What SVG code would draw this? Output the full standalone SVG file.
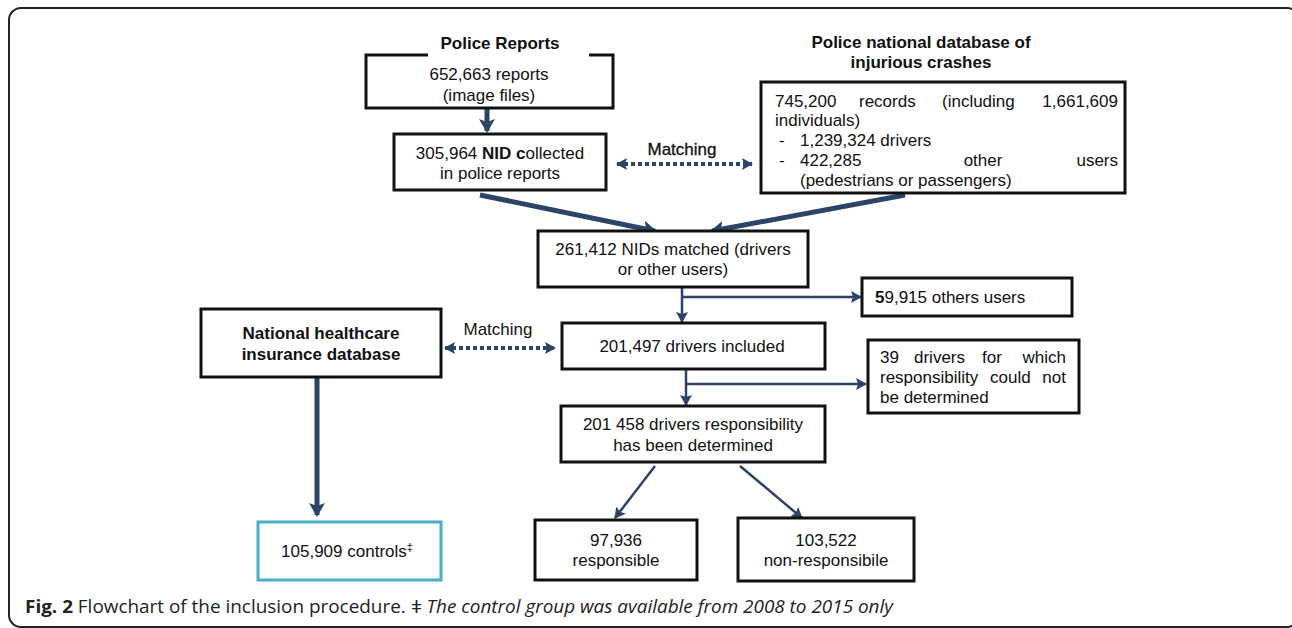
<svg xmlns="http://www.w3.org/2000/svg" width="1292" height="628" viewBox="0 0 1292 628">
<style>
.t{font-family:"Liberation Sans",Arial,sans-serif;font-size:17px;fill:#111}
.b{font-weight:bold}
.box{fill:#fff;stroke:#111;stroke-width:3}
.c{text-anchor:middle}
.e{text-anchor:end}
.thick{stroke:#2b4468;stroke-width:5;fill:none}
.thin{stroke:#2b4468;stroke-width:2.5;fill:none}
.dot{stroke:#2b4468;stroke-width:4;fill:none;stroke-dasharray:4 3}
.cap{font-family:"Open Sans","Liberation Sans",sans-serif;font-size:18px;fill:#222}
</style>
<defs>
<marker id="ah" markerUnits="userSpaceOnUse" markerWidth="20" markerHeight="20" refX="12" refY="8" orient="auto"><path d="M0,0 L14,8 L0,16 L3,8 Z" fill="#2b4468"/></marker>
<marker id="as" markerUnits="userSpaceOnUse" markerWidth="16" markerHeight="16" refX="10" refY="6" orient="auto"><path d="M0,0 L11,6 L0,12 L2,6 Z" fill="#2b4468"/></marker>
<marker id="ad" markerUnits="userSpaceOnUse" markerWidth="16" markerHeight="16" refX="10" refY="6" orient="auto-start-reverse"><path d="M0,0 L11,6 L0,12 L2,6 Z" fill="#2b4468"/></marker>
</defs>
<rect x="9" y="8" width="1290" height="619" rx="12" fill="#fff" stroke="#222" stroke-width="2"/>

<g id="connectors">
<line class="thick" x1="487" y1="108" x2="487" y2="131" marker-end="url(#ah)"/>
<line class="dot" x1="617" y1="164" x2="752" y2="164" marker-start="url(#ad)" marker-end="url(#ad)"/>
<line class="thick" x1="480" y1="195" x2="655" y2="231" marker-end="url(#ah)"/>
<line class="thick" x1="905" y1="195" x2="712" y2="231" marker-end="url(#ah)"/>
<line class="thin" x1="682" y1="287" x2="682" y2="322" marker-end="url(#as)"/>
<line class="thin" x1="682" y1="297" x2="861" y2="297" marker-end="url(#as)"/>
<line class="dot" x1="445" y1="348" x2="555" y2="348" marker-start="url(#ad)" marker-end="url(#ad)"/>
<line class="thin" x1="686" y1="369" x2="686" y2="405" marker-end="url(#as)"/>
<line class="thin" x1="686" y1="384" x2="866" y2="384" marker-end="url(#as)"/>
<line class="thin" x1="655" y1="466" x2="615" y2="518" marker-end="url(#as)"/>
<line class="thin" x1="740" y1="466" x2="802" y2="518" marker-end="url(#as)"/>
<line class="thick" x1="317" y1="377" x2="317" y2="515" stroke-width="4" marker-end="url(#ah)"/>
<text class="t c" x="682" y="155" stroke="#111" stroke-width="0.3">Matching</text>
<text class="t c" x="498" y="335">Matching</text>
</g>

<g id="police-reports">
<rect class="box" x="366" y="55" width="247" height="53"/>
<rect x="428" y="30" width="161" height="27" fill="#fff"/>
<text class="t b c" x="500" y="49">Police Reports</text>
<text class="t c" x="489" y="80">652,663 reports</text>
<text class="t c" x="489" y="101">(image files)</text>
</g>

<g id="nid-collected">
<rect class="box" x="394" y="134" width="212" height="56"/>
<text class="t c" x="500" y="159">305,964 <tspan class="b">NID c</tspan>ollected</text>
<text class="t c" x="500" y="179">in police reports</text>
</g>

<g id="police-database">
<text class="t b c" x="921" y="48">Police national database of</text>
<text class="t b c" x="921" y="68">injurious crashes</text>
<rect class="box" x="761" y="82" width="364" height="111"/>
<text class="t" x="775" y="107">745,200</text>
<text class="t" x="859" y="107">records</text>
<text class="t" x="942" y="107">(including</text>
<text class="t e" x="1118" y="107">1,661,609</text>
<text class="t" x="775" y="126">individuals)</text>
<text class="t" x="779" y="146">-</text>
<text class="t" x="800" y="146">1,239,324 drivers</text>
<text class="t" x="779" y="166">-</text>
<text class="t" x="800" y="166">422,285</text>
<text class="t c" x="983" y="166">other</text>
<text class="t e" x="1118" y="166">users</text>
<text class="t" x="800" y="186">(pedestrians or passengers)</text>
</g>

<g id="nids-matched">
<rect class="box" x="538" y="231" width="270" height="56"/>
<text class="t c" x="673" y="255">261,412 NIDs matched (drivers</text>
<text class="t c" x="673" y="275">or other users)</text>
</g>

<g id="others-users">
<rect class="box" x="862" y="278" width="210" height="38"/>
<text class="t" x="875" y="303"><tspan class="b">5</tspan>9,915 others users</text>
</g>

<g id="drivers-included">
<rect class="box" x="562" y="323" width="263" height="46"/>
<text class="t c" x="692" y="352">201,497 drivers included</text>
</g>

<g id="healthcare-db">
<rect class="box" x="201" y="309" width="240" height="68"/>
<text class="t b c" x="321" y="339">National healthcare</text>
<text class="t b c" x="321" y="360">insurance database</text>
</g>

<g id="undetermined">
<rect class="box" x="868" y="340" width="211" height="73"/>
<text class="t" x="880" y="363">39</text>
<text class="t" x="914" y="363">drivers</text>
<text class="t" x="982" y="363">for</text>
<text class="t e" x="1066" y="363">which</text>
<text class="t" x="880" y="383">responsibility</text>
<text class="t" x="990" y="383">could</text>
<text class="t e" x="1066" y="383">not</text>
<text class="t" x="880" y="403">be determined</text>
</g>

<g id="determined">
<rect class="box" x="561" y="406" width="264" height="56"/>
<text class="t c" x="693" y="430">201 458 drivers responsibility</text>
<text class="t c" x="693" y="451">has been determined</text>
</g>

<g id="responsible">
<rect class="box" x="535" y="520" width="162" height="60"/>
<text class="t c" x="616" y="546">97,936</text>
<text class="t c" x="616" y="566">responsible</text>
</g>

<g id="non-responsible">
<rect class="box" x="738" y="518" width="176" height="63"/>
<text class="t c" x="826" y="546">103,522</text>
<text class="t c" x="826" y="566">non-responsibile</text>
</g>

<g id="controls">
<rect x="258" y="522" width="183" height="58" fill="#fff" stroke="#4aaec6" stroke-width="3"/>
<text class="t c" x="347" y="557">105,909 controls<tspan font-size="11" dy="-6">‡</tspan></text>
</g>

<g id="caption">
<text class="cap" x="25" y="613" textLength="868" lengthAdjust="spacingAndGlyphs"><tspan font-weight="bold">Fig. 2</tspan> Flowchart of the inclusion procedure. <tspan font-style="italic">ǂ The control group was available from 2008 to 2015 only</tspan></text>
</g>
</svg>
